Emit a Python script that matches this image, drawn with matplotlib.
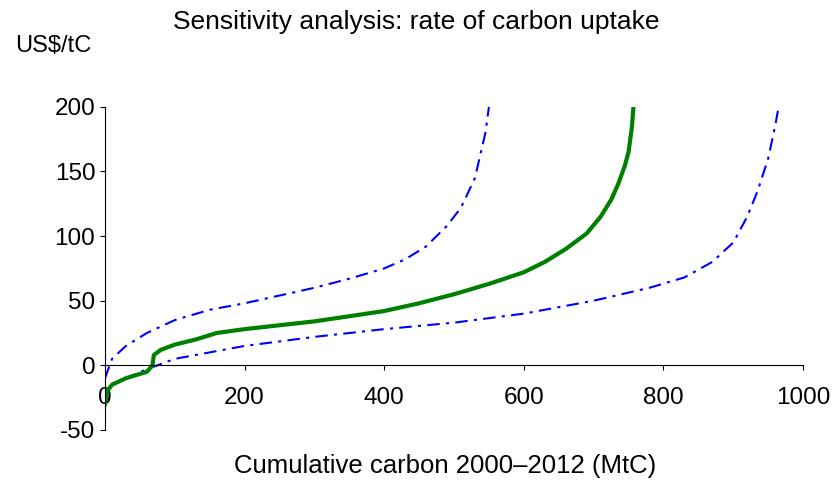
import matplotlib.pyplot as plt

plt.rcParams["font.family"] = ["Liberation Sans", "DejaVu Sans"]
plt.rcParams["axes.unicode_minus"] = False

# central estimate
mid_x = [0, 3, 10, 30, 60, 68, 70, 80, 100, 130, 160, 200, 250, 300, 350, 400, 450, 500,
         550, 600, 630, 660, 690, 710, 725, 735, 745, 750, 755, 757]
mid_y = [-30, -20, -15, -10, -5, 0, 8, 12, 16, 20, 25, 28, 31, 34, 38, 42, 48, 55,
         63, 72, 80, 90, 102, 115, 128, 140, 155, 165, 185, 200]
# high uptake / low uptake bounds
up_x = [0, 10, 30, 60, 100, 150, 200, 250, 300, 350, 400, 430, 460, 490, 510, 530, 545, 550]
up_y = [-10, 5, 15, 25, 35, 43, 48, 54, 60, 67, 75, 82, 92, 108, 122, 145, 180, 200]
lo_x = [0, 10, 30, 60, 100, 150, 200, 300, 400, 500, 600, 700, 780, 830, 870, 900, 920,
        935, 950, 960, 965]
lo_y = [-25, -15, -10, -3, 5, 10, 15, 22, 28, 33, 40, 50, 60, 68, 80, 95, 115, 135,
        160, 185, 200]

fig = plt.figure(figsize=(8.4, 4.88), dpi=100)
ax = fig.add_axes([0.125, 0.119, 0.831, 0.662])
ax.plot(up_x, up_y, color="blue", lw=1.5, linestyle=(0, (6, 3, 1.5, 3)))
ax.plot(lo_x, lo_y, color="blue", lw=1.5, linestyle=(0, (6, 3, 1.5, 3)))
ax.plot(mid_x, mid_y, color="#008000", lw=3)

ax.set_xlim(0, 1000)
ax.set_ylim(-50, 200)
ax.set_xticks([0, 200, 400, 600, 800, 1000])
ax.set_yticks([-50, 0, 50, 100, 150, 200])
for s in ["top", "right"]:
    ax.spines[s].set_visible(False)
ax.spines["bottom"].set_position(("data", 0))
ax.tick_params(labelsize=17.5, direction="out")
ax.tick_params(axis="x", pad=12)

fig.text(0.495, 0.955, "Sensitivity analysis: rate of carbon uptake", ha="center", va="center", fontsize=19)
fig.text(0.018, 0.905, "US$/tC", ha="left", va="center", fontsize=17)
fig.text(0.53, 0.045, "Cumulative carbon 2000\u20132012 (MtC)", ha="center", va="center", fontsize=18.5)
fig.savefig("out.png")
